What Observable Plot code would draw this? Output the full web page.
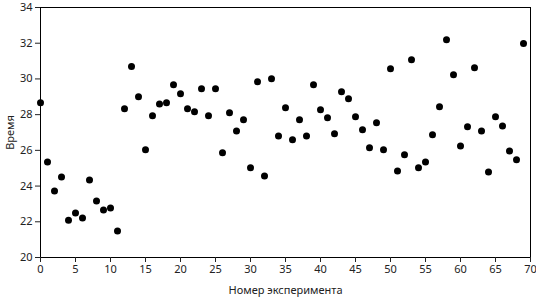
<!DOCTYPE html>
<html>
<head>
<meta charset="utf-8">
<script src="https://cdn.jsdelivr.net/npm/d3@7"></script>
<script src="https://cdn.jsdelivr.net/npm/@observablehq/plot@0.6"></script>
<style>
  html, body { margin: 0; padding: 0; background: #fff; }
  #chart svg { display: block; }
</style>
</head>
<body>
<div id="chart"></div>
<script>
const experiment = d3.range(0, 70);
const time = [
  28.67, 25.35, 23.73, 24.51, 22.08, 22.49, 22.21, 24.34, 23.16, 22.66,
  22.77, 21.48, 28.33, 30.69, 29.00, 26.03, 27.94, 28.59, 28.67, 29.68,
  29.17, 28.33, 28.16, 29.45, 27.94, 29.45, 25.86, 28.10, 27.09, 27.71,
  25.02, 29.84, 24.57, 30.01, 26.81, 28.39, 26.59, 27.71, 26.81, 29.68,
  28.27, 27.82, 26.93, 29.28, 28.89, 27.88, 27.15, 26.14, 27.54, 26.03,
  30.57, 24.85, 25.75, 31.08, 25.02, 25.35, 26.87, 28.44, 32.20, 30.24,
  26.25, 27.32, 30.63, 27.09, 24.79, 27.88, 27.37, 25.97, 25.47, 31.98
];
const xTicks = d3.range(0, 71, 5);
const yTicks = d3.range(20, 35, 2);

const data = experiment.map((x, i) => ({x, y: time[i]}));

const chart = Plot.plot({
  width: 536,
  height: 300,
  marginLeft: 40,
  marginRight: 6,
  marginTop: 7,
  marginBottom: 43,
  style: {fontFamily: "'Noto Sans', sans-serif", fontSize: "11px", color: "#222", background: "#fff"},
  x: {domain: [0, 70]},
  y: {domain: [20, 34]},
  marks: [
    Plot.frame({stroke: "#000", strokeWidth: 1}),
    Plot.axisX({ticks: xTicks, tickSize: 5, tickPadding: 3, label: "Номер эксперимента", labelAnchor: "center", labelOffset: 36, labelArrow: "none"}),
    Plot.axisY({ticks: yTicks, tickSize: 5, tickPadding: 3, label: "Время", labelAnchor: "center", labelOffset: 34, labelArrow: "none"}),
    Plot.dot(data, {x: "x", y: "y", r: 3.5, fill: "#000", stroke: "none"})
  ]
});
document.getElementById("chart").appendChild(chart);
</script>
</body>
</html>
